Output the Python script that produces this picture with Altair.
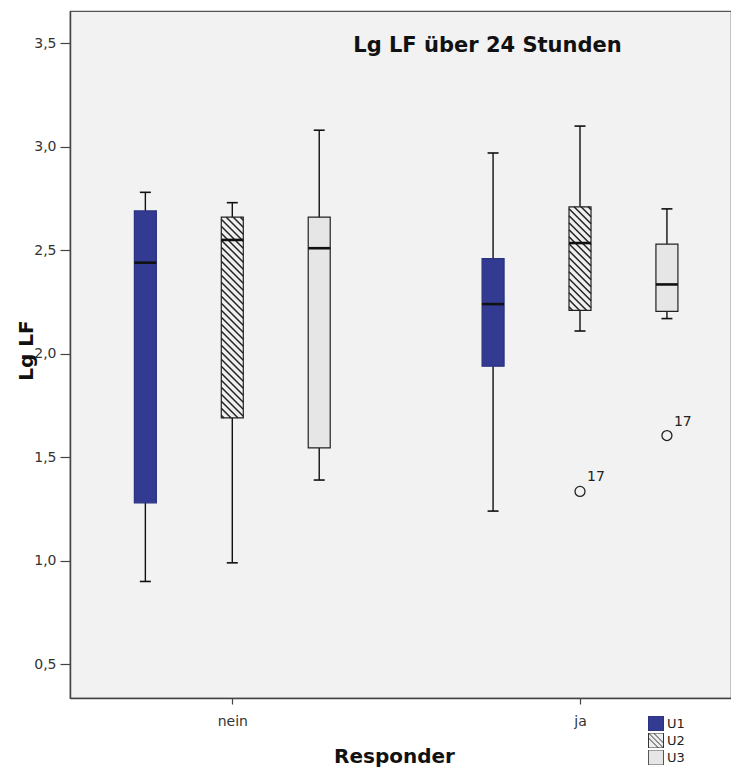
import altair as alt
import numpy as np
import pandas as pd

# ---------------- data ----------------
groups = ["nein", "ja"]
series = ["U1", "U2", "U3"]

responder = ["nein", "nein", "nein", "ja", "ja", "ja"]
zeitpunkt = ["U1", "U2", "U3", "U1", "U2", "U3"]
whisker_low = [0.90, 0.99, 1.39, 1.24, 2.11, 2.17]
q1 = [1.28, 1.69, 1.545, 1.94, 2.21, 2.205]
median = [2.44, 2.55, 2.51, 2.24, 2.535, 2.335]
q3 = [2.69, 2.66, 2.66, 2.46, 2.71, 2.53]
whisker_high = [2.78, 2.73, 3.08, 2.97, 3.10, 2.70]

outlier_responder = ["ja", "ja"]
outlier_zeitpunkt = ["U2", "U3"]
outlier_value = [1.335, 1.605]
outlier_label = ["17", "17"]

y_ticks = [0.5, 1.0, 1.5, 2.0, 2.5, 3.0, 3.5]

# ---------------- layout / style ----------------
W, H = 661, 687
X_DOMAIN = [0.133, 7.737]
Y_DOMAIN = [0.337, 3.656]
PX_X = W / (X_DOMAIN[1] - X_DOMAIN[0])
PX_Y = H / (Y_DOMAIN[1] - Y_DOMAIN[0])
BOX_HALF = 11 / PX_X
CAP_HALF = 5.5 / PX_X
FONT = "DejaVu Sans"
colors = ["#323A91", "#EFEFEF", "#E6E6E6"]
strokes = ["#2A3180", "#222222", "#222222"]
legend_strokes = ["#2A3180", "#333333", "#555555"]


def slot(g, s):
    return groups.index(g) * 4 + series.index(s) + 1


boxes = pd.DataFrame({
    "Responder": responder, "Zeitpunkt": zeitpunkt,
    "low": whisker_low, "q1": q1, "median": median, "q3": q3, "high": whisker_high,
})
boxes["pos"] = [slot(g, s) for g, s in zip(responder, zeitpunkt)]
boxes["xl"] = boxes["pos"] - BOX_HALF
boxes["xr"] = boxes["pos"] + BOX_HALF
boxes["cl"] = boxes["pos"] - CAP_HALF
boxes["cr"] = boxes["pos"] + CAP_HALF

outliers = pd.DataFrame({
    "Responder": outlier_responder, "Zeitpunkt": outlier_zeitpunkt,
    "value": outlier_value, "label": outlier_label,
})
outliers["pos"] = [slot(g, s) for g, s in zip(outlier_responder, outlier_zeitpunkt)]

# hatch segments for the U2 boxes, derived from the box extents
seg = []
for _, r in boxes[boxes["Zeitpunkt"] == "U2"].iterrows():
    wpx = 22.0
    hpx = (r["q3"] - r["q1"]) * PX_Y
    for c in np.arange(-wpx + 3, hpx, 7.0):
        x0 = max(0.0, -c)
        x1 = min(wpx, hpx - c)
        if x1 - x0 > 0.8:
            seg.append({
                "x": r["xl"] + x0 / PX_X, "x2": r["xl"] + x1 / PX_X,
                "y": r["q3"] - (x0 + c) / PX_Y, "y2": r["q3"] - (x1 + c) / PX_Y,
            })
hatch = pd.DataFrame(seg)

xs = alt.Scale(domain=X_DOMAIN, nice=False, zero=False)
ys = alt.Scale(domain=Y_DOMAIN, nice=False, zero=False)

label_expr_x = " : ".join(
    f"datum.value == {i * 4 + 2} ? '{g}'" for i, g in enumerate(groups)
) + " : ''"

x_axis = alt.Axis(values=[i * 4 + 2 for i in range(len(groups))], labelExpr=label_expr_x,
                  title="Responder", titleX=324, titleY=64, titleBaseline="alphabetic",
                  titleAlign="center", tickSize=6, labelPadding=10)
y_axis = alt.Axis(values=y_ticks, labelExpr="replace(format(datum.value, '.1f'), '.', ',')",
                  title="Lg LF", titleX=-38, titleY=339, titleAngle=270,
                  titleAlign="center", titleBaseline="alphabetic", tickSize=10,
                  labelPadding=4)


def X(field):
    return alt.X(field, scale=xs, axis=x_axis)


def Y(field):
    return alt.Y(field, scale=ys, axis=y_axis)


def by_series(values):
    cond = alt.when(alt.datum.Zeitpunkt == series[0]).then(alt.value(values[0]))
    for s, v in zip(series[1:-1], values[1:-1]):
        cond = cond.when(alt.datum.Zeitpunkt == s).then(alt.value(v))
    return cond.otherwise(alt.value(values[-1]))


whisk = alt.Chart(boxes).mark_rule(color="#111", strokeWidth=1.4).encode(
    x=X("pos:Q"), y=Y("low:Q"), y2="high:Q",
)
cap_lo = alt.Chart(boxes).mark_rule(color="#111", strokeWidth=1.6).encode(
    x=X("cl:Q"), x2="cr:Q", y=Y("low:Q"),
)
cap_hi = alt.Chart(boxes).mark_rule(color="#111", strokeWidth=1.6).encode(
    x=X("cl:Q"), x2="cr:Q", y=Y("high:Q"),
)
box = alt.Chart(boxes).mark_rect(strokeWidth=1.2).encode(
    x=X("xl:Q"), x2="xr:Q", y=Y("q1:Q"), y2="q3:Q",
    fill=by_series(colors),
    stroke=by_series(strokes),
)
hatch_layer = alt.Chart(hatch).mark_rule(color="#222", strokeWidth=1.5).encode(
    x=X("x:Q"), x2="x2:Q", y=Y("y:Q"), y2="y2:Q",
)
med = alt.Chart(boxes).mark_rule(color="#111", strokeWidth=2.6).encode(
    x=X("xl:Q"), x2="xr:Q", y=Y("median:Q"),
)
out_pts = alt.Chart(outliers).mark_point(shape="circle", size=100, filled=False,
                                         color="#222", strokeWidth=1.3, opacity=1).encode(
    x=X("pos:Q"), y=Y("value:Q"),
)
out_txt = alt.Chart(outliers).mark_text(align="left", baseline="alphabetic", dx=7, dy=-10,
                                        font=FONT, fontSize=14, color="#222").encode(
    x=X("pos:Q"), y=Y("value:Q"), text="label:N",
)

sq = "M-1,-1H1V1H-1Z"
hatch_sq = sq + " M-1,-0.33L0.33,1 M-1,-1L1,1 M-0.33,-1L1,0.33"
leg = alt.Legend(title=None, orient="none", legendX=578, legendY=705,
                 symbolSize=225, symbolStrokeWidth=1,
                 labelFont=FONT, labelFontSize=13, labelColor="#222",
                 rowPadding=2, labelOffset=3, padding=0, clipHeight=15)
legend_layer = alt.Chart(boxes).mark_point(filled=True, opacity=1, strokeWidth=1).encode(
    x=X("pos:Q"), y=Y("median:Q"),
    fill=alt.Fill("Zeitpunkt:N", scale=alt.Scale(domain=series, range=colors), legend=leg),
    stroke=alt.Stroke("Zeitpunkt:N", scale=alt.Scale(domain=series, range=legend_strokes),
                      legend=leg),
    shape=alt.Shape("Zeitpunkt:N", scale=alt.Scale(domain=series, range=[sq, hatch_sq, sq]),
                    legend=leg),
).transform_filter("false")

chart = alt.layer(
    whisk, cap_lo, cap_hi, box, hatch_layer, med, out_pts, out_txt, legend_layer
).properties(
    width=W, height=H,
    autosize=alt.AutoSizeParams(type="none"),
    padding={"left": 70, "top": 11, "right": 0, "bottom": 78},
    background="white",
    title=alt.TitleParams("Lg LF über 24 Stunden", anchor="middle", dx=87, offset=-62,
                          baseline="alphabetic", font=FONT, fontSize=21,
                          fontWeight="bold", color="#111"),
).configure_view(
    fill="#F2F2F2", stroke="#555", strokeWidth=1.2,
).configure_axis(
    domainColor="#444", domainWidth=1.5, tickColor="#444", tickWidth=1.2,
    labelFont=FONT, labelFontSize=14, labelColor="#333", grid=False,
    titleFont=FONT, titleFontWeight="bold", titleFontSize=20, titleColor="#111",
)

chart.save("out.html", embed_options={"renderer": "svg", "actions": False})
